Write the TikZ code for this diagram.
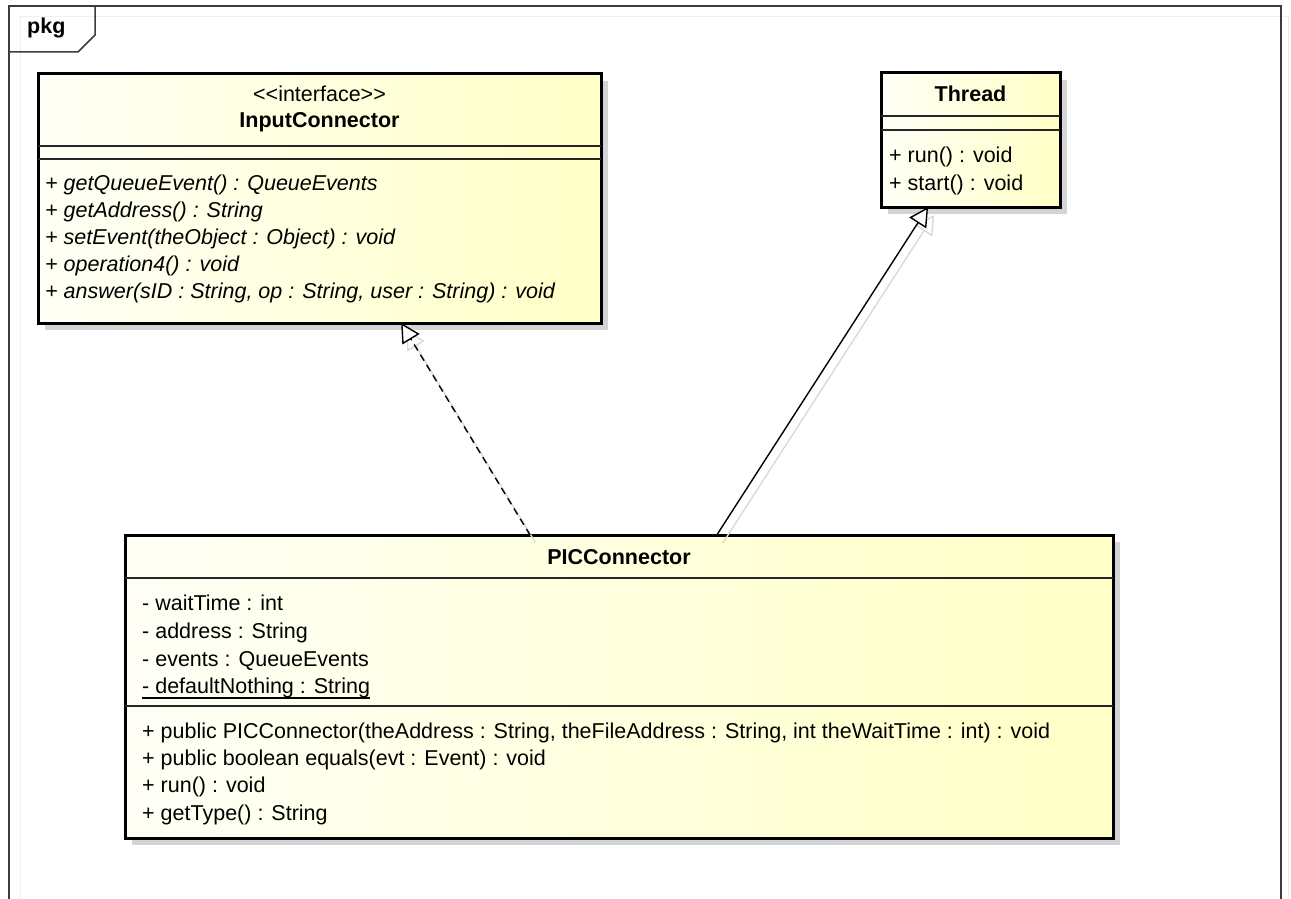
\documentclass[tikz,border=0pt]{standalone}
\usepackage{fontspec}
\setmainfont{Liberation Sans}
\newfontfamily\umlfont{Liberation Sans}
\usetikzlibrary{arrows.meta,shadows,calc}

\definecolor{framec}{HTML}{3C3C3C}
\definecolor{boxL}{HTML}{FFFFF6}
\definecolor{boxR}{HTML}{FFFFC6}
\definecolor{shadowc}{HTML}{D4D4D4}
\definecolor{lineshadow}{HTML}{DADADA}

\newcommand\umlsize{\fontsize{21.5}{27}\selectfont}

\begin{document}
\begin{tikzpicture}[x=1pt,y=-1pt,
  umlbox/.style={draw=black, line width=3pt, left color=boxL, right color=boxR,
    inner sep=0pt, outer sep=0pt,
    drop shadow={shadow xshift=7pt, shadow yshift=-7pt, fill=shadowc, opacity=1}},
  sepline/.style={draw=black!85, line width=1.3pt},
  txt/.style={anchor=base west, inner sep=0pt, font=\umlfont\umlsize},
  itxt/.style={txt, font=\umlfont\umlsize\itshape},
  ttl/.style={anchor=base, inner sep=0pt, font=\umlfont\umlsize\bfseries},
  stereo/.style={anchor=base, inner sep=0pt, font=\umlfont\umlsize},
  conn/.style={draw=black, line width=1.4pt},
  connshadow/.style={draw=lineshadow, line width=1.4pt},
  hollow/.style={-{Triangle[length=19pt, width=20pt, fill=white]}}
]
\useasboundingbox (0,0) rectangle (1291,899);
\fill[white] (0,0) rectangle (1291,899);

% package frame and its name tab
\draw[lineshadow!40, line width=1pt] (20,905) -- (20,17) -- (1288,17) -- (1288,905);
\draw[framec, line width=1.5pt] (9,905) -- (9,6) -- (1281,6) -- (1281,905);
\draw[framec, line width=1.5pt] (9,52) -- (78,52) -- (95,35) -- (95,6);
\node[anchor=base west, inner sep=0pt, font=\umlfont\umlsize\bfseries] (pkg) at (27,34) {pkg};

% class boxes
\node[umlbox, minimum width=563pt, minimum height=249pt] (ic) at (319.5,198.5) {};
\node[umlbox, minimum width=179pt, minimum height=134pt] (th) at (970.5,140) {};
\node[umlbox, minimum width=988pt, minimum height=303pt] (pic) at (619,686.5) {};

% compartment separators
\draw[sepline] ([yshift=-72pt]ic.north west) -- ([yshift=-72pt]ic.north east);
\draw[sepline] ([yshift=-85pt]ic.north west) -- ([yshift=-85pt]ic.north east);
\draw[sepline] ([yshift=-43pt]th.north west) -- ([yshift=-43pt]th.north east);
\draw[sepline] ([yshift=-57pt]th.north west) -- ([yshift=-57pt]th.north east);
\draw[sepline] ([yshift=-43pt]pic.north west) -- ([yshift=-43pt]pic.north east);
\draw[sepline] ([yshift=-171pt]pic.north west) -- ([yshift=-171pt]pic.north east);

% InputConnector
\node[stereo] (icst) at (319.5,102) {<\kern0pt<interface>\kern0pt>};
\node[ttl] (icname) at (319.5,128) {InputConnector};
\node[itxt] (ico1) at (45,190) {+ getQueueEvent() : QueueEvents};
\node[itxt] (ico2) at (45,217) {+ getAddress() : String};
\node[itxt] (ico3) at (45,244) {+ setEvent(theObject : Object) : void};
\node[itxt] (ico4) at (45,271) {+ operation4() : void};
\node[itxt] (ico5) at (45,298) {+ answer(sID : String, op : String, user : String) : void};

% Thread
\node[ttl] (thname) at (970.5,101) {Thread};
\node[txt] (tho1) at (889,162) {+ run() : void};
\node[txt] (tho2) at (889,190) {+ start() : void};

% PICConnector
\node[ttl] (picname) at (619,564) {PICConnector};
\node[txt] (pa1) at (142,610) {- waitTime : int};
\node[txt] (pa2) at (142,638) {- address : String};
\node[txt] (pa3) at (142,666) {- events : QueueEvents};
\node[txt] (pa4) at (142,693) {- defaultNothing : String};
\draw[black, line width=1.2pt] ([yshift=-5pt]pa4.base west) -- ([yshift=-5pt]pa4.base east);
\node[txt] (po1) at (142,738) {+ public PICConnector(theAddress : String, theFileAddress : String, int theWaitTime : int) : void};
\node[txt] (po2) at (142,765) {+ public boolean equals(evt : Event) : void};
\node[txt] (po3) at (142,792) {+ run() : void};
\node[txt] (po4) at (142,820) {+ getType() : String};

% connector end points on the class borders
\coordinate (picR) at ($(pic.north west)!0.41!(pic.north east)$);
\coordinate (icR)  at ($(ic.south west)!0.645!(ic.south east)$);
\coordinate (picG) at ($(pic.north west)!0.599!(pic.north east)$);
\coordinate (thG)  at ($(th.south west)!0.263!(th.south east)$);

% faint connector shadows
\draw[connshadow, hollow, draw=lineshadow] ([shift={(5pt,-7pt)}]picR) -- ([shift={(5pt,-7pt)}]icR);
\draw[connshadow, hollow, draw=lineshadow] ([shift={(6pt,-8pt)}]picG) -- ([shift={(6pt,-8pt)}]thG);

% realization: PICConnector implements InputConnector
\draw[conn, dash pattern=on 7pt off 5pt, hollow] (picR) -- (icR);
% generalization: PICConnector extends Thread
\draw[conn, hollow] (picG) -- (thG);
\end{tikzpicture}
\end{document}
